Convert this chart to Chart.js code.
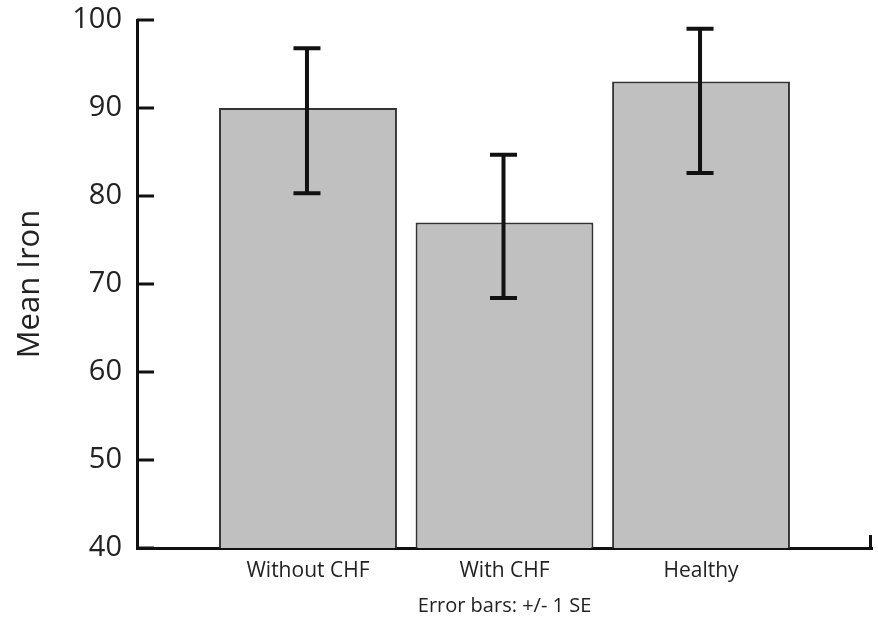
<!DOCTYPE html>
<html lang="en">
<head>
    <meta charset="UTF-8">
    <script src="https://cdn.jsdelivr.net/npm/chart.js@4.4.3/dist/chart.umd.min.js"></script>
    <style>
        html, body {
            margin: 0;
            padding: 0;
            background: #fff;
        }

        #wrap {
            width: 878px;
            height: 626px;
        }
    </style>
</head>
<body>
    <div id="wrap"><canvas id="chart"></canvas></div>

    <script>
        const categories = ["Without CHF", "With CHF", "Healthy"];
        const meanIron = [90, 77, 93];
        const seLow = [80.3, 68.4, 82.6];
        const seHigh = [96.8, 84.7, 99.0];
        const yTicks = [40, 50, 60, 70, 80, 90, 100];

        const axisColor = "#111";

        // error bars, inward y ticks and the little end tick on the x axis
        const extras = {
            id: "extras",
            afterDatasetsDraw(chart) {
                let ctx = chart.ctx;
                let x = chart.scales.x, y = chart.scales.y;
                let area = chart.chartArea;
                ctx.save();
                ctx.strokeStyle = axisColor;
                ctx.lineCap = "butt";

                ctx.lineWidth = 4;
                for (let i = 0; i < categories.length; i++) {
                    let px = x.getPixelForValue(i + 1) - 1;
                    let top = y.getPixelForValue(seHigh[i]);
                    let bottom = y.getPixelForValue(seLow[i]);
                    ctx.beginPath();
                    ctx.moveTo(px, top);
                    ctx.lineTo(px, bottom);
                    ctx.moveTo(px - 13.5, top);
                    ctx.lineTo(px + 13.5, top);
                    ctx.moveTo(px - 13.5, bottom);
                    ctx.lineTo(px + 13.5, bottom);
                    ctx.stroke();
                }

                ctx.lineWidth = 3;
                ctx.beginPath();
                for (let v of yTicks) {
                    let py = y.getPixelForValue(v);
                    ctx.moveTo(area.left, py);
                    ctx.lineTo(area.left + 17, py);
                }
                ctx.moveTo(area.right - 1.5, area.bottom);
                ctx.lineTo(area.right - 1.5, area.bottom - 13);
                ctx.stroke();
                ctx.restore();
            }
        };

        let chartjs = new Chart(document.getElementById("chart"), {
            type: "bar",
            data: {
                datasets: [{
                    label: "Mean Iron",
                    data: meanIron.map((v, i) => ({ x: i + 1, y: v })),
                    backgroundColor: "#c0c0c0",
                    borderColor: "#333",
                    borderWidth: 2,
                    categoryPercentage: 1,
                    barPercentage: 0.905
                }]
            },
            options: {
                responsive: true,
                maintainAspectRatio: false,
                animation: false,
                layout: {
                    padding: { top: 20, right: 6, left: 0, bottom: 0 }
                },
                plugins: {
                    legend: { display: false },
                    tooltip: { enabled: false }
                },
                scales: {
                    x: {
                        type: "linear",
                        min: 0.13,
                        max: 3.87,
                        offset: false,
                        grid: { display: false, offset: false },
                        border: { display: true, color: axisColor, width: 3 },
                        afterBuildTicks: scale => {
                            scale.ticks = categories.map((c, i) => ({ value: i + 1 }));
                        },
                        afterFit: scale => {
                            scale.height = 78;
                            scale.paddingLeft = 0;
                            scale.paddingRight = 0;
                        },
                        ticks: {
                            autoSkip: false,
                            maxRotation: 0,
                            padding: 2,
                            color: "#222",
                            font: { family: "Open Sans", size: 21 },
                            callback: v => categories[v - 1]
                        },
                        title: {
                            display: true,
                            text: "Error bars: +/- 1 SE",
                            color: "#222",
                            font: { family: "Open Sans", size: 20 },
                            padding: { top: 0, bottom: 8 }
                        }
                    },
                    y: {
                        min: 40,
                        max: 100,
                        grid: { display: false },
                        border: { display: true, color: axisColor, width: 3 },
                        afterBuildTicks: scale => {
                            scale.ticks = yTicks.map(v => ({ value: v }));
                        },
                        afterFit: scale => {
                            scale.width = 137;
                            scale.paddingTop = 0;
                            scale.paddingBottom = 0;
                        },
                        ticks: {
                            padding: 7,
                            color: "#222",
                            font: { family: "Open Sans", size: 29 }
                        },
                        title: {
                            display: true,
                            text: "Mean Iron",
                            color: "#222",
                            font: { family: "Open Sans", size: 31 },
                            padding: { top: 12, bottom: 0 }
                        }
                    }
                }
            },
            plugins: [extras]
        });
    </script>
</body>
</html>
